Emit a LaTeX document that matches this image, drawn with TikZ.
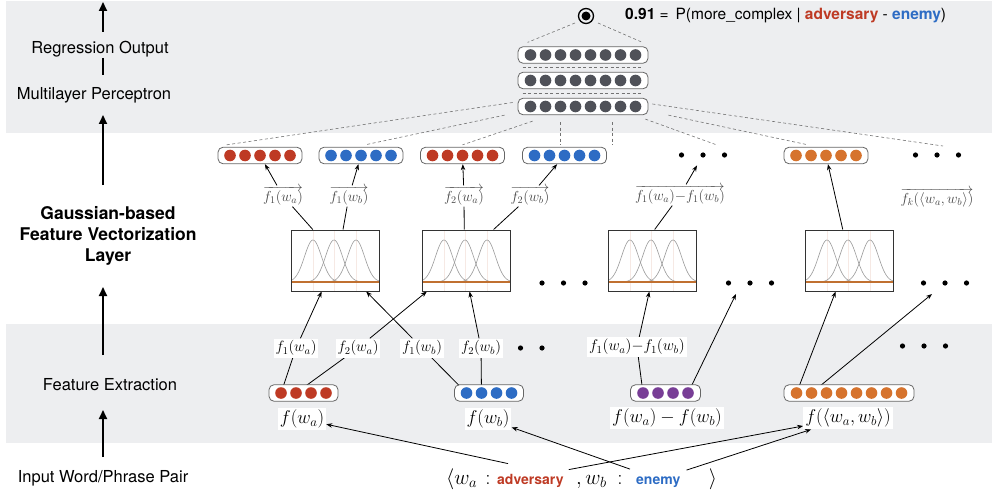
\RequirePackage{fix-cm}
\documentclass[tikz,border=0pt]{standalone}
\usepackage{fontspec}
\newfontfamily\hv{TeX Gyre Heros}
\usetikzlibrary{arrows.meta,calc}
\pgfdeclarelayer{bands}
\pgfdeclarelayer{back}
\pgfsetlayers{bands,back,main}
\definecolor{cred}{HTML}{BE3A24}
\definecolor{cblue}{HTML}{2D6CC4}
\definecolor{corange}{HTML}{D6732D}
\definecolor{cpurple}{HTML}{783E96}
\definecolor{cdark}{HTML}{4F5158}
\definecolor{cband}{HTML}{EDEEF0}
\definecolor{cpink}{HTML}{F6E9E4}
\definecolor{cgline}{HTML}{C07030}

\newcommand{\mkbar}[6]{%
  \node[vbar, minimum width=#6pt] (#1) at (#2,#3) {};
  \foreach \i in {1,...,#4}{
    \coordinate (#1-\i) at ({#2+(\i-(#4+1)/2)*15},#3);
    \fill[#5] (#1-\i) circle[radius=5.8pt];
  }
}
\newcommand{\mkdots}[3]{%
  \node[minimum width=50pt, minimum height=10pt, inner sep=0] (#1) at (#2,#3) {};
  \foreach \k in {-1,0,1} \fill ({#2+\k*21.5},#3) circle[radius=2.6pt];
}
\newcommand{\mkgauss}[3]{%
  \begin{scope}[shift={(#2,#3)}]
    \foreach \m in {22,43,65} \draw[gvline] (\m,0) -- (\m,61);
    \begin{scope}
      \clip (0,0) rectangle (88,61);
      \foreach \m in {22,43,65}
        \draw[gcurve] plot[domain=0:88,samples=70,smooth] (\x,{52-42*exp(-((\x-\m)^2)/144.5)});
    \end{scope}
    \draw[oline] (0,52) -- (88,52);
  \end{scope}
  \node[gbox] (#1) at (#2+44,#3+30.5) {};
}

\begin{document}
\begin{tikzpicture}[x=1pt,y=-1pt,
  vbar/.style={draw=black!60, fill=white, rounded corners=5pt, line width=0.8pt, minimum height=16.5pt, inner sep=0},
  gbox/.style={draw=black!80, line width=1pt, minimum width=88pt, minimum height=61pt, inner sep=0},
  gcurve/.style={draw=black!40, line width=0.6pt},
  gvline/.style={draw=cpink, line width=0.6pt},
  oline/.style={draw=cgline, line width=1.2pt},
  dline/.style={draw=black!55, dash pattern=on 3pt off 2.5pt, line width=0.6pt},
  conn/.style={draw=black, line width=0.8pt},
  arr/.style={conn, -{Stealth[length=6pt,width=4.5pt]}},
  bigarr/.style={line width=2pt, -{Triangle[length=9pt,width=8pt]}},
  flab/.style={fill=white, inner sep=2pt, font=\fontsize{15}{17}\selectfont},
  vlab/.style={fill=white, inner sep=2pt, font=\fontsize{18.5}{20}\selectfont},
  alab/.style={inner sep=1pt, text=black!72, font=\fontsize{14.5}{16}\selectfont},
  sideL/.style={font=\hv\fontsize{16.5}{20}\selectfont, inner sep=0},
  wordL/.style={font=\hv\bfseries\fontsize{14}{16}\selectfont, inner sep=0, anchor=base west},
  mathL/.style={font=\fontsize{21}{24}\selectfont, inner sep=0},
]
\useasboundingbox (0,0) rectangle (992,497);

\begin{pgfonlayer}{bands}
  \fill[cband] (6,1) rectangle (992,133);
  \fill[cband] (6,324) rectangle (992,443);
\end{pgfonlayer}

% ---------- left side labels ----------
\node[sideL] (lreg) at (100,49) {Regression Output};
\node[sideL] (lmlp) at (94,95) {Multilayer Perceptron};
\node[sideL, font=\hv\bfseries\fontsize{17.5}{21}\selectfont, align=center] (lgau) at (108,236) {Gaussian-based\\Feature Vectorization\\Layer};
\node[sideL] (lfe) at (110,385) {Feature Extraction};
\node[sideL] (linp) at (103,478) {Input Word/Phrase Pair};
\coordinate (a1s) at (103,32); \coordinate (a1e) at (103,2);
\coordinate (a2s) at (103,58); \coordinate (a2e) at (103,75);
\coordinate (a3s) at (103,185); \coordinate (a3e) at (103,115);
\coordinate (a4s) at (103,355); \coordinate (a4e) at (103,287);
\coordinate (a5s) at (103,457); \coordinate (a5e) at (103,410);
\draw[bigarr] (a1s) -- (a1e);
\draw[line width=2pt] (a2s) -- (a2e);
\draw[bigarr] (a3s) -- (a3e);
\draw[bigarr] (a4s) -- (a4e);
\draw[bigarr] (a5s) -- (a5e);

% ---------- output and MLP ----------
\node[circle, draw, line width=1.3pt, minimum size=15pt, inner sep=0] (out) at (586,16) {};
\fill (out.center) circle[radius=4.5pt];
\node[anchor=west, inner sep=0, font=\hv\fontsize{15.5}{18}\selectfont] (title) at (625,16)
  {\textbf{0.91} =\, P(more\_complex | \textcolor{cred}{\textbf{adversary}} - \textcolor{cblue}{\textbf{enemy}})};
\mkbar{m1}{583}{55}{8}{cdark}{130}
\mkbar{m2}{583}{80.5}{8}{cdark}{130}
\mkbar{m3}{583}{106.5}{8}{cdark}{130}

% ---------- vector row ----------
\mkbar{r1}{260}{155.5}{5}{cred}{84}
\mkbar{b1}{361}{155.5}{5}{cblue}{84}
\mkbar{r2}{462.5}{155.5}{5}{cred}{84}
\mkbar{b2}{564.5}{155.5}{5}{cblue}{84}
\mkdots{d1}{703}{155}
\mkbar{o1}{826}{155.5}{5}{corange}{84}
\mkdots{d2}{937}{155}

% ---------- arrow labels ----------
\node[alab] (l1) at (283,196) {$\overrightarrow{f_1(w_a)}$};
\node[alab] (l2) at (349,196) {$\overrightarrow{f_1(w_b)}$};
\node[alab] (l3) at (464,196) {$\overrightarrow{f_2(w_a)}$};
\node[alab] (l4) at (530,196) {$\overrightarrow{f_2(w_b)}$};
\node[alab] (l5) at (680,195) {$\overrightarrow{f_1(w_a){-}f_1(w_b)}$};
\node[alab] (l6) at (937,198) {$\overrightarrow{f_k(\langle w_a,w_b\rangle)}$};

% ---------- gaussian boxes ----------
\mkgauss{g1}{291}{230}
\mkgauss{g2}{422}{230}
\mkgauss{g3}{608}{230}
\mkgauss{g4}{805}{230}
\mkdots{gd1}{563.5}{283}
\mkdots{gd2}{750}{283}
\mkdots{gd3}{945}{283}
\coordinate (gd2a) at (736,294);
\coordinate (gd3a) at (932,294);

% ---------- feature extraction ----------
\mkdots{fdots1}{520.5}{348}
\mkdots{fdots2}{924}{346}
\node[flab] (la1) at (296,348) {$f_1(w_a)$};
\node[flab] (la2) at (358,348) {$f_2(w_a)$};
\node[flab] (lb1) at (422,348) {$f_1(w_b)$};
\node[flab] (lb2) at (481,348) {$f_2(w_b)$};
\node[flab, font=\fontsize{15.5}{17}\selectfont] (ld) at (637,347) {$f_1(w_a){-}f_1(w_b)$};
\mkbar{fr}{303.5}{393}{4}{cred}{69}
\mkbar{fbb}{489}{393}{4}{cblue}{69}
\mkbar{fp}{665.5}{393}{4}{cpurple}{70}
\mkbar{fo}{849}{393}{8}{corange}{130}
\node[vlab] (fva) at (302,419) {$f(w_a)$};
\node[vlab] (fvb) at (488,419) {$f(w_b)$};
\node[vlab] (fvd) at (667,418) {$f(w_a)-f(w_b)$};
\node[vlab] (ff) at (848,418) {$f(\langle w_a,w_b\rangle)$};

% ---------- input row ----------
\node[mathL, anchor=base west] (ia) at (446,484) {$\langle w_a$};
\node[mathL, anchor=base] (ic1) at (488,484) {$:$};
\node[wordL, text=cred] (adv) at (497,484) {adversary};
\node[mathL, anchor=base west] (ib) at (576,484) {$,w_b$};
\node[mathL, anchor=base] (ic2) at (620,484) {$:$};
\node[wordL, text=cblue] (ene) at (636,484) {enemy};
\node[mathL, anchor=base] (ir) at (713,484) {$\rangle$};

% ---------- connectors ----------
\begin{pgfonlayer}{back}
  % MLP dashed
  \draw[dline] ($(out.center)+(-11,7)$) -- ($(m1.north west)+(10,-4)$);
  \draw[dline] ($(out.center)+(12,7)$) -- ($(m1.north east)+(-6,-4)$);
  \draw[dline] ($(m1.south west)!0.5!(m2.north west)+(5,0)$) -- ($(m1.south east)!0.5!(m2.north east)+(-6,0)$);
  \draw[dline] ($(m2.south west)!0.5!(m3.north west)+(5,0)$) -- ($(m2.south east)!0.5!(m3.north east)+(-6,0)$);
  \draw[dline] ($(m3.west)+(-5,-4)$) -- ($(r1.north west)+(9,-2)$);
  \draw[dline] ($(m3.south west)+(-13,0)$) -- ($(b1.north)+(4,-2)$);
  \draw[dline] ($(m3.south west)+(15,6)$) -- ($(r2.north)+(0,-2)$);
  \draw[dline] ($(m3.south)+(-23,7)$) -- ($(b2.north)+(-4.5,-2)$);
  \draw[dline] ($(m3.south)+(29,7)$) -- ++(0,23);
  \draw[dline] ($(m3.south east)+(-3,4)$) -- ($(d1.center)+(14,-10)$);
  \draw[dline] ($(m3.south east)+(20,0)$) -- ($(o1.north)+(-18,-2)$);
  \draw[dline] ($(m3.east)+(4,-2.5)$) -- ($(d2.center)+(6,-9)$);
  % gaussian to vectors
  \draw[conn] ($(g1.north west)!0.25!(g1.north east)$) -- (l1);
  \draw[arr] (l1) -- (r1);
  \draw[conn] ($(g1.north west)!0.59!(g1.north east)$) -- (l2);
  \draw[arr] (l2) -- (b1);
  \draw[conn] ($(g2.north west)!0.48!(g2.north east)$) -- (l3);
  \draw[arr] (l3) -- (r2);
  \draw[conn] ($(g2.north west)!0.81!(g2.north east)$) -- (l4);
  \draw[arr] (l4) -- (b2);
  \draw[conn] ($(g3.north west)!0.53!(g3.north east)$) -- (l5);
  \draw[arr, shorten >=6pt] (l5) -- (d1);
  \draw[arr] ($(g4.north west)!0.43!(g4.north east)$) -- (o1);
  % features to gaussian
  \draw[conn] (fr-1) -- (la1);
  \draw[arr] (la1) -- ($(g1.south west)!0.35!(g1.south east)$);
  \draw[conn] (fr-2) -- (la2);
  \draw[arr] (la2) -- ($(g2.south west)!0.06!(g2.south east)$);
  \draw[conn] (fbb-1) -- (lb1);
  \draw[arr] (lb1) -- ($(g1.south west)!0.85!(g1.south east)$);
  \draw[conn] (fbb-2) -- (lb2);
  \draw[arr] (lb2) -- ($(g2.south west)!0.54!(g2.south east)$);
  \draw[conn] (fp-1) -- (ld);
  \draw[arr] (ld) -- ($(g3.south west)!0.47!(g3.south east)$);
  \draw[arr] (fp-4) -- (gd2a);
  \draw[arr] (fo-1) -- ($(g4.south west)!0.35!(g4.south east)$);
  \draw[arr] (fo-2) -- (gd3a);
  % input to features
  \draw[arr] ($(adv.north west)+(11,-10)$) -- (fva);
  \draw[arr] ($(adv.north east)+(5,-4)$) -- ($(ff.west)+(0,8)$);
  \draw[arr] ($(ene.north west)+(-6,-7)$) -- (fvb);
  \draw[arr] ($(ene.north east)+(6,-6)$) -- ($(ff.south west)+(8,0)$);
\end{pgfonlayer}
\end{tikzpicture}
\end{document}
